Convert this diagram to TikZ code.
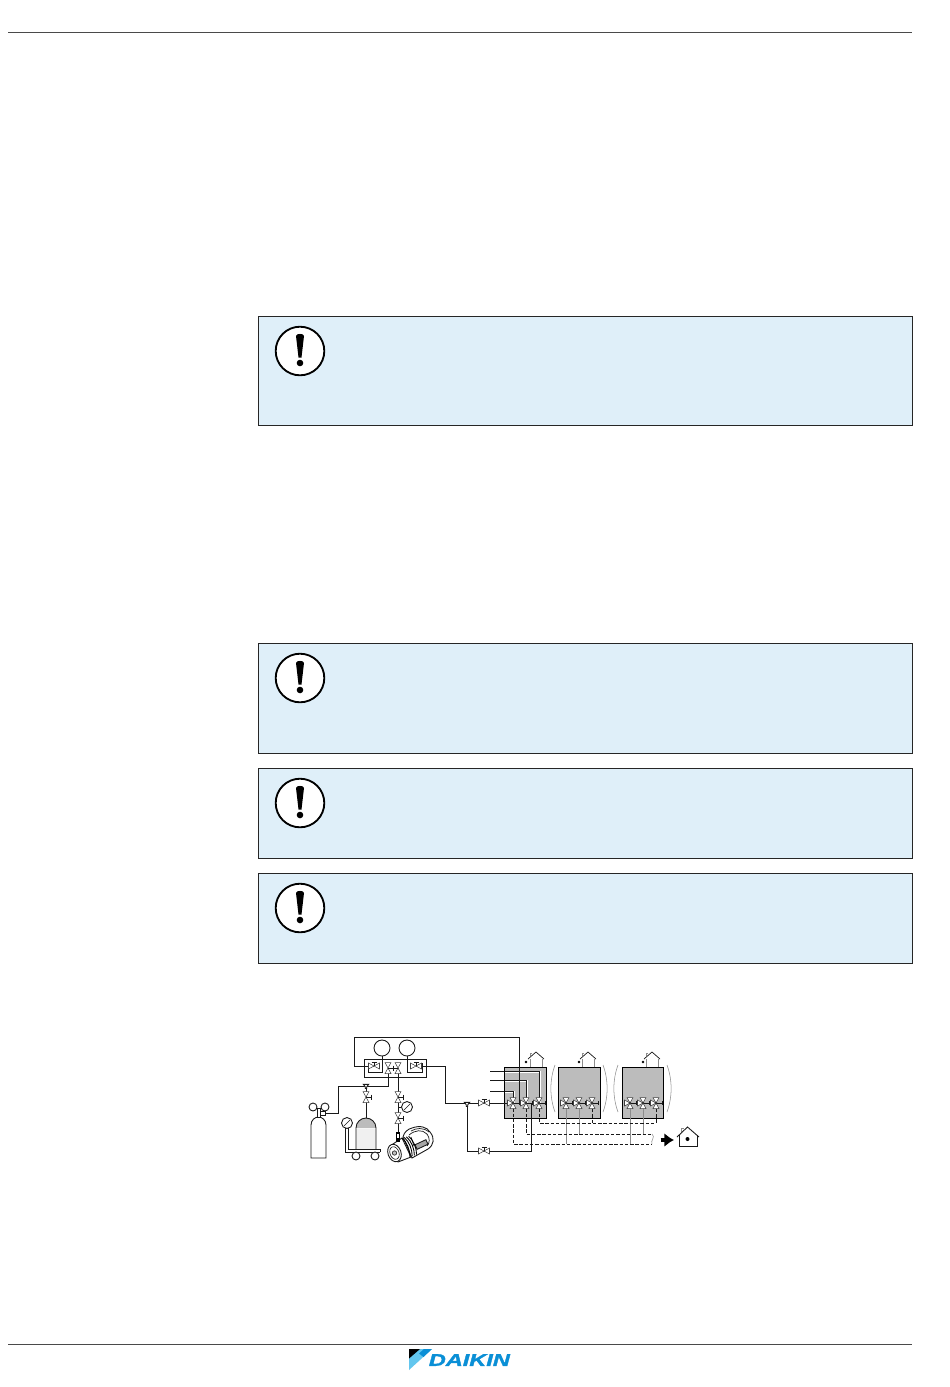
\documentclass[tikz,border=0pt]{standalone}
\usepackage{fontspec}
\setmainfont{Liberation Sans}
\newfontface\logofont[FakeBold=1.5]{Liberation Sans Bold Italic}
\usetikzlibrary{calc,arrows.meta}
\definecolor{noticefill}{HTML}{DFEFF9}
\definecolor{unitgray}{HTML}{BCBCBC}
\definecolor{rulegray}{HTML}{4A4A4A}
\definecolor{logoblue}{HTML}{0A8FD6}
\definecolor{logocyan}{HTML}{63C6EE}
\tikzset{
	pipe/.style={line width=0.5pt, color=black!90},
	dashpipe/.style={line width=0.5pt, color=black!90, dash pattern=on 2pt off 1pt},
	thinpipe/.style={line width=0.3pt, color=black!45},
	valveline/.style={line width=0.3pt, draw=black!75, fill=white},
	noticebox/.style={line width=0.45pt, draw=black!85, fill=noticefill},
	gaugenode/.style={circle, draw=black!90, line width=0.5pt, fill=white, inner sep=0pt},
}
\def\notice#1#2{
	\draw[noticebox] (258, #1) rectangle (912, #2);
	\draw[line width=1.05pt, fill=white] (300, #1+35) circle (24.3);
	\fill (296, #1+20) .. controls (296, #1+17.2) and (304, #1+17.2) .. (304, #1+20) -- (301.5, #1+41.5) -- (298.5, #1+41.5) -- cycle;
	\fill (300, #1+47) circle (3.3);
}
\def\valveH#1{
	\draw[valveline] ($(#1)+(-5.5,-3)$) -- ($(#1)+(5.5,3)$) -- ($(#1)+(5.5,-3)$) -- ($(#1)+(-5.5,3)$) -- cycle;
	\draw[pipe] (#1) -- ($(#1)+(0,-4)$) ($(#1)+(-2.5,-4)$) -- ($(#1)+(2.5,-4)$);
}
\def\valveV#1#2{
	\draw[valveline] ($(#1)+(-3,-5.5)$) -- ($(#1)+(3,5.5)$) -- ($(#1)+(-3,5.5)$) -- ($(#1)+(3,-5.5)$) -- cycle;
	\draw[pipe] (#1) -- ($(#1)+(#2*5,0)$) ($(#1)+(#2*5,-2.5)$) -- ($(#1)+(#2*5,2.5)$);
}
\def\valveT#1{
	\draw[pipe, fill=white] ($(#1)+(-2.6,-1.6)$) -- ($(#1)+(2.6,-1.6)$) -- ($(#1)+(0.7,0.8)$) -- ($(#1)+(0.7,2.4)$) -- ($(#1)+(-0.7,2.4)$) -- ($(#1)+(-0.7,0.8)$) -- cycle;
}
\def\valveX#1{
	\draw[pipe] (#1) -- ($(#1)+(6,0)$) ($(#1)+(6,-2)$) -- ($(#1)+(6,2)$);
	\draw[valveline] (#1) -- ($(#1)+(-5.5,-3)$) -- ($(#1)+(-5.5,3)$) -- cycle;
	\draw[valveline] (#1) -- ($(#1)+(-3,-5.5)$) -- ($(#1)+(3,-5.5)$) -- cycle;
	\draw[valveline] (#1) -- ($(#1)+(-3,5.5)$) -- ($(#1)+(3,5.5)$) -- cycle;
	\fill[black!80] (#1) circle (1.3);
}
\def\house#1#2{
	\draw[thinpipe] ($(#1)+(-6,-9)$) -- ($(#1)+(-6,-12)$) -- ($(#1)+(-4,-12)$);
	\draw[thinpipe] ($(#1)+(-6,2)$) -- ($(#1)+(-6,-6)$) ($(#1)+(6.5,2)$) -- ($(#1)+(6.5,-6)$);
	\draw[pipe, line width=0.4pt] ($(#1)+(-8,-6)$) -- ($(#1)+(0,-13)$) -- ($(#1)+(8,-6)$);
	\fill ($(#1)+(#2,-3)$) circle (1.3);
}
\begin{document}
\begin{tikzpicture}[x=0.02cm, y=-0.02cm]
		%%%%% START %%%%%
		\useasboundingbox[fill=white] (0, 0) rectangle (950, 1387);
		
		\draw[line width=0.5pt, color=rulegray] (8, 32) -- (912, 32);
		\draw[line width=0.5pt, color=rulegray] (8, 1344) -- (912, 1344);
		
		\notice{316}{425}
		\notice{643}{753}
		\notice{768}{858}
		\notice{873}{963}
		
		% units
		\fill[unitgray] (504, 1067) rectangle (546, 1118);
		\fill[unitgray] (558, 1067) rectangle (600, 1118);
		\fill[unitgray] (622, 1067) rectangle (663, 1118);
		
		% junctions
		\coordinate (loopB) at (519, 1037);
		\coordinate (loopC) at (354, 1066);
		\coordinate (loopD) at (519, 1103);
		\coordinate (valveL) at (374, 1066);
		\coordinate (valveR) at (416, 1066);
		\coordinate (valveC) at (388, 1068);
		\coordinate (valveD) at (398, 1068);
		\coordinate (teeTank) at (366, 1086);
		\coordinate (valveTank) at (366, 1097);
		\coordinate (tankTop) at (366, 1118);
		\coordinate (bottleOut) at (325, 1113);
		\coordinate (valveP) at (398, 1097);
		\coordinate (valveQ) at (398, 1118);
		\coordinate (pumpIn) at (398, 1133);
		\coordinate (teeMain) at (467, 1104);
		\coordinate (valveMain) at (484, 1103);
		\coordinate (valveLow) at (484, 1151);
		
		\coordinate (xA) at (513, 1103);
		\coordinate (xB) at (526, 1103);
		\coordinate (xC) at (539, 1103);
		\coordinate (xD) at (566, 1103);
		\coordinate (xE) at (579, 1103);
		\coordinate (xF) at (592, 1103);
		\coordinate (xG) at (630, 1103);
		\coordinate (xH) at (643, 1103);
		\coordinate (xI) at (656, 1103);
		
		% manifold
		\draw[pipe] (364, 1059) rectangle (426, 1077);
		\node[gaugenode, minimum size=0.32cm] (gaugeL) at (382, 1048) {};
		\node[gaugenode, minimum size=0.32cm] (gaugeR) at (407, 1048) {};
		\draw[pipe] (valveR) -- (445, 1066) |- (xA);
		\draw[pipe] (loopC) |- (loopB) -- (loopD);
		\draw[pipe] (loopC) -- (valveL);
		\draw[pipe] (368, 1063) -- (368, 1072) -| (gaugeL.south);
		\draw[pipe] (gaugeR.south) |- (422, 1072) -- (422, 1063);
		
		\draw[pipe] (valveC) |- (teeTank) -| (338, 1113) -- (bottleOut);
		\draw[pipe] (teeTank) -- (tankTop);
		\draw[pipe] (valveD) -- (pumpIn);
		\draw[pipe] (teeMain) |- (valveLow) -- (531.5, 1151) -- (531.5, 1103);
		
		\valveH{valveL}
		\valveH{valveR}
		\valveV{valveC}{1}
		\valveV{valveD}{-1}
		\valveT{teeTank}
		\valveV{valveTank}{1}
		\valveV{valveP}{1}
		\valveV{valveQ}{1}
		\valveT{teeMain}
		\valveH{valveMain}
		\valveH{valveLow}
		
		% bottle
		\draw[pipe, fill=white] (311, 1158) -- (311, 1125) .. controls (311, 1120) and (315, 1117) .. (318.5, 1117) .. controls (322, 1117) and (326, 1120) .. (326, 1125) -- (326, 1158) -- cycle;
		\draw[pipe, fill=white] (317, 1108) rectangle (320, 1117);
		\draw[pipe, fill=white] (320, 1111) rectangle (325, 1115);
		\node[gaugenode, minimum size=0.16cm] (gaugeBa) at (313, 1107) {};
		\node[gaugenode, minimum size=0.16cm] (gaugeBb) at (325, 1107) {};
		
		% tank on trolley
		\fill[black!6] (356, 1129) rectangle (376, 1149);
		\fill[unitgray] (356, 1128) .. controls (356, 1122) and (361, 1118) .. (366, 1118) .. controls (371, 1118) and (376, 1122) .. (376, 1128) -- cycle;
		\draw[pipe] (356, 1149) -- (356, 1128) .. controls (356, 1122) and (361, 1118) .. (366, 1118) .. controls (371, 1118) and (376, 1122) .. (376, 1128) -- (376, 1149);
		\draw[pipe] (345.8, 1128) -- (345.8, 1152) -- (380, 1152) (348.2, 1128) -- (348.2, 1149) -- (380, 1149) -- (380, 1152);
		\node[gaugenode, minimum size=0.22cm] (gaugeT) at (347, 1123) {};
		\draw[pipe, line width=0.35pt] (344, 1126) -- (350, 1120);
		\node[gaugenode, minimum size=0.16cm] (wheelA) at (356, 1156) {};
		\node[gaugenode, minimum size=0.16cm] (wheelB) at (375, 1156) {};
		
		% pump
		\node[gaugenode, minimum size=0.22cm] (gaugeP) at (407, 1107) {};
		\draw[pipe] (398, 1107) -- (gaugeP);
		\draw[pipe, line width=0.35pt] (404, 1110) -- (410, 1104);
		\draw[pipe, fill=white] (403, 1137) .. controls (404, 1132) and (408, 1129) .. (412, 1128) .. controls (420, 1125) and (427, 1127) .. (430, 1132) .. controls (435, 1138) and (434, 1145) .. (428, 1149) -- (412, 1158) -- cycle;
		\draw[pipe, line width=0.4pt] (409, 1135) .. controls (415, 1130) and (422, 1129) .. (427, 1134) (411, 1131) .. controls (416, 1128) and (423, 1127) .. (429, 1132);
		\draw[pipe, line width=0.4pt] (411, 1137) -- (414, 1146) (427, 1134) .. controls (430, 1138) and (430, 1143) .. (427, 1146);
		\draw[pipe, fill=black!35, rotate around={25:(421.5, 1144.5)}] (415.5, 1142) rectangle (427.5, 1147);
		\draw[pipe, fill=white] (390, 1146) -- (402, 1138) -- (411, 1157) -- (398, 1162) -- cycle;
		\foreach \n in {0,...,3}{
			\draw[line width=0.5pt] (402+\n*2.2, 1138-\n*0.6) .. controls (407+\n*2.2, 1142-\n*0.6) and (410+\n*2.2, 1150-\n*0.6) .. (410+\n*2.2, 1157-\n*0.8);
		}
		\draw[pipe, fill=white, rotate around={20:(394.5, 1153)}] (394.5, 1153) ellipse (6.5 and 9);
		\draw[pipe, line width=0.35pt, rotate around={20:(394.5, 1153)}] (394.5, 1153) ellipse (4.5 and 6.5);
		\draw[pipe, line width=0.35pt, fill=black!25] (394.5, 1153) circle (2.2);
		\fill (396, 1132) rectangle (400, 1142);
		\fill[white] (397.2, 1134) rectangle (398.8, 1138);
		
		% refrigerant lines
		\draw[white, line width=1.1pt] (505, 1091.8) -| (514, 1103);
		\draw[white, line width=1.1pt] (505, 1080.8) -| (527, 1103);
		\draw[white, line width=1.1pt] (505, 1071.8) -| (540, 1103);
		\draw[pipe] (490, 1091) -| (xA);
		\draw[pipe] (490, 1080) -| (xB);
		\draw[pipe] (490, 1071) -| (xC);
		
		\draw[line width=0.5pt] (504, 1067) rectangle (546, 1118);
		\draw[line width=0.5pt] (558, 1067) rectangle (600, 1118);
		\draw[line width=0.5pt] (622, 1067) rectangle (663, 1118);
		\draw[pipe] (loopB) -- (loopD);
		\draw[pipe] (490, 1103) -- (xA);
		\draw[pipe] (531.5, 1103) -- (531.5, 1119);
		
		% interconnection
		\draw[thinpipe] (xD) -- (566, 1144) (xE) -- (579, 1134);
		\draw[thinpipe] (xG) -- (630, 1144) (xH) -- (643, 1134);
		\draw[dashpipe] (xC) |- (656, 1123) -- (xI);
		\draw[dashpipe] (592, 1123) -- (xF);
		\draw[dashpipe] (xB) |- (652, 1134);
		\draw[dashpipe] (xA) |- (652, 1144);
		\draw[thinpipe] (652, 1134) .. controls (656, 1137) and (650, 1141) .. (652, 1144);
		
		\foreach \v in {xA,xB,xC,xD,xE,xF,xG,xH,xI}{
			\valveX{\v}
		}
		
		% brackets
		\draw[thinpipe] (555, 1065) .. controls (549.5, 1080) and (549.5, 1097) .. (555, 1112);
		\draw[thinpipe] (603, 1065) .. controls (608.5, 1080) and (608.5, 1097) .. (603, 1112);
		\draw[thinpipe] (618, 1065) .. controls (612.5, 1080) and (612.5, 1097) .. (618, 1112);
		\draw[thinpipe] (667, 1065) .. controls (672.5, 1080) and (672.5, 1097) .. (667, 1112);
		
		% houses
		\coordinate (roofA) at (536, 1065);
		\coordinate (roofB) at (588, 1065);
		\coordinate (roofC) at (652, 1065);
		\house{roofA}{-10}
		\house{roofB}{-9}
		\house{roofC}{-9}
		
		\draw[line width=1.9pt, -{Latex[length=5.5pt, width=8pt]}] (660.5, 1140) -- (674, 1140);
		\coordinate (roofD) at (687.5, 1127);
		\draw[thinpipe] (681, 1132) -- (681, 1128) -- (684, 1128);
		\draw[pipe] (677, 1137) -- (roofD) -- (699, 1137);
		\draw[pipe, line width=0.4pt] (679, 1135) -- (679, 1146) -- (697, 1146) -- (697, 1135);
		\fill (687.5, 1139) circle (2);
		
		% logo
		\fill[logocyan] (409, 1349) -- (432, 1349) -- (409, 1370) -- cycle;
		\fill[logoblue] (424, 1349) -- (432, 1349) -- (423.5, 1357) -- (419, 1353.5) -- cycle;
		\fill[black] (409, 1349) -- (420, 1349) -- (409, 1358.5) -- cycle;
		\node[text=logoblue, inner sep=0pt, anchor=west] (logoText) at (428.5, 1360) {\scalebox{1.38}[1]{\logofont\fontsize{9.7pt}{10pt}\selectfont DAIKIN}};
		
		%%%%% END %%%%%
	\end{tikzpicture}
\end{document}
